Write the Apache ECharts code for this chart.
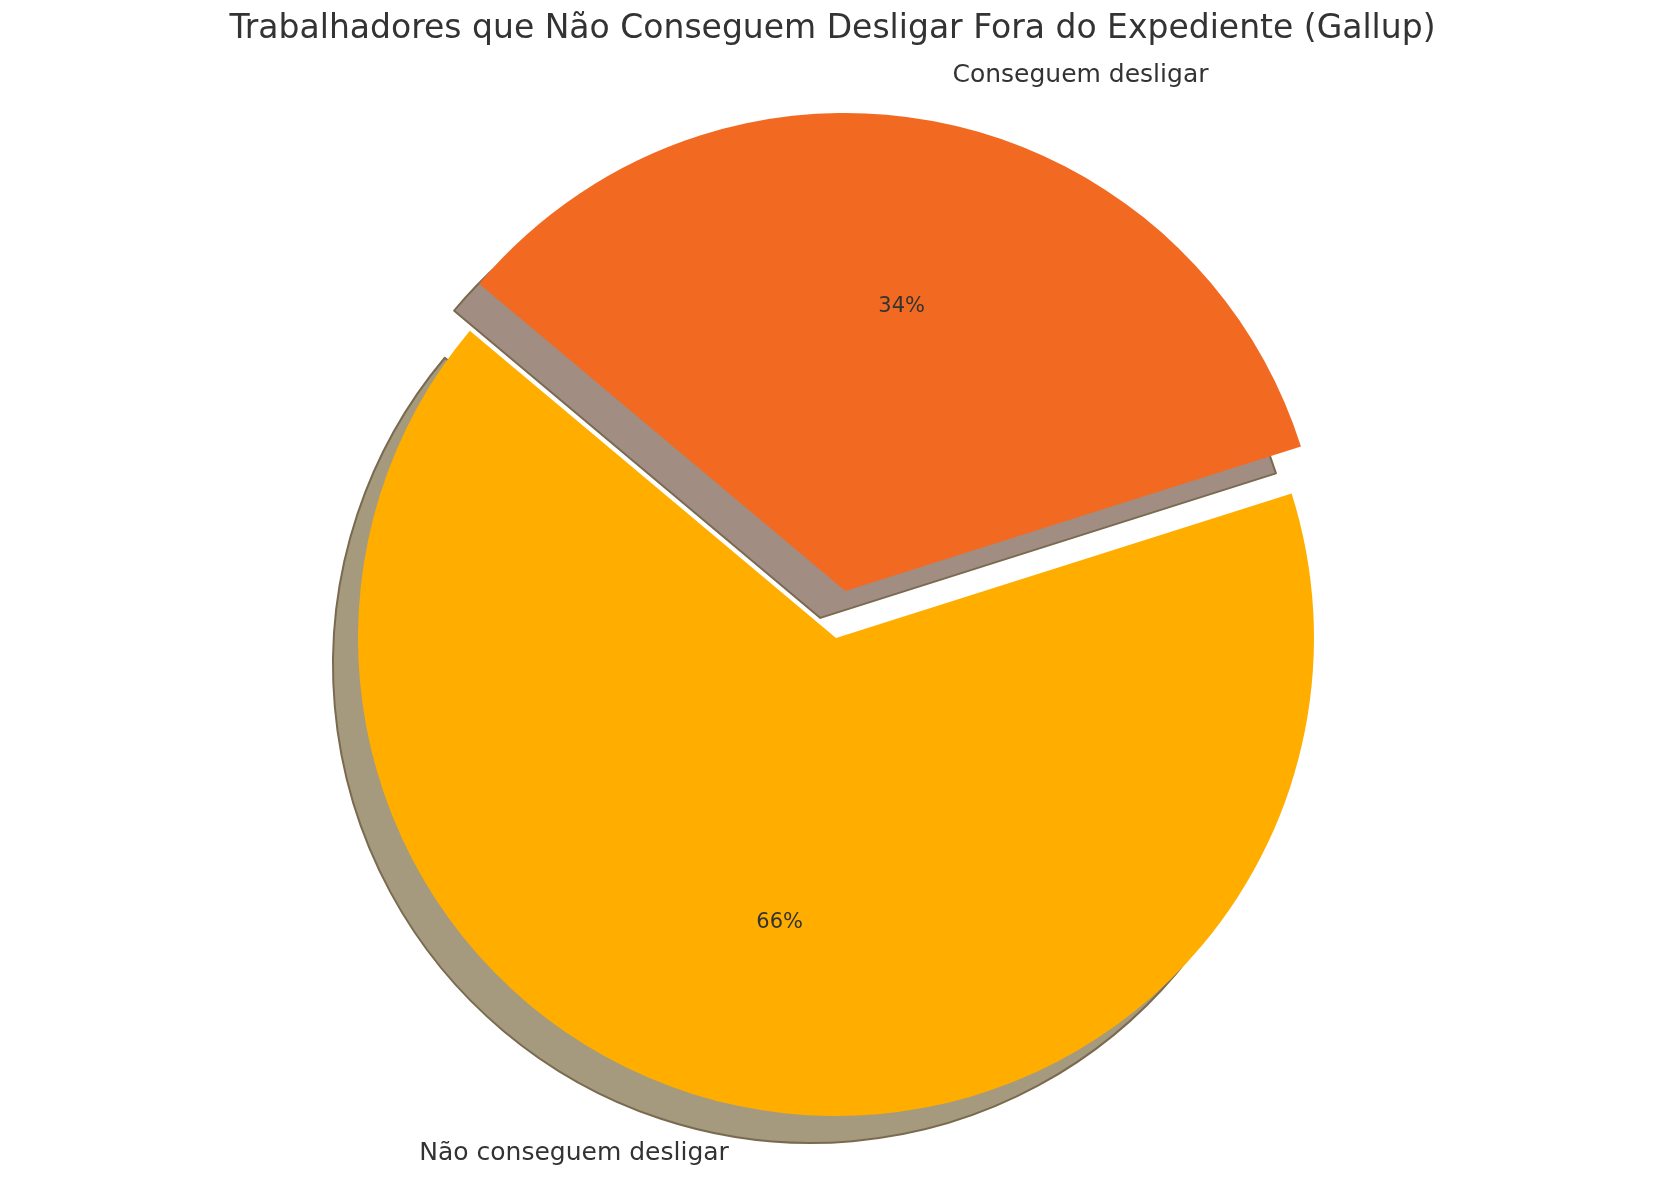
<!DOCTYPE html>
<html><head><meta charset="utf-8">
<script src="https://cdn.jsdelivr.net/npm/echarts@6/dist/echarts.min.js"></script>
<style>html,body{margin:0;background:#fff}#c{width:1665px;height:1186px}</style>
</head><body><div id="c"></div>
<script>
const categories = ['Não conseguem desligar', 'Conseguem desligar'];
const values = [66, 34];
const colors = ['#ffae00', '#f26a21'];
const shadowColors = ['#a59a7e', '#a28d82'];
const exploded = [false, true];

const cx = 836, cy = 638, R = 478, off = 48;
const chart = echarts.init(document.getElementById('c'));
const mk = (fn) => categories.map((n, i) => Object.assign({name: n, value: values[i], selected: exploded[i]}, fn(i)));
const base = {type: 'pie', startAngle: 140, clockwise: false, selectedMode: 'multiple', selectedOffset: off, animation: false, silent: true, emphasis: {disabled: true}};
chart.setOption({
  title: {text: 'Trabalhadores que Não Conseguem Desligar Fora do Expediente (Gallup)', left: 'center', top: 8,
    textStyle: {fontFamily: 'DejaVu Sans', fontWeight: 'normal', fontSize: 33, color: '#333'}},
  series: [
    Object.assign({}, base, {center: [cx - 25, cy + 27], radius: R, z: 1, label: {show: false}, labelLine: {show: false},
      data: mk(i => ({itemStyle: {color: shadowColors[i], borderColor: '#7a6a50', borderWidth: 2}}))}),
    Object.assign({}, base, {center: [cx, cy], radius: R, z: 2,
      label: {show: true, position: 'outside', formatter: '{b}', fontFamily: 'DejaVu Sans', fontSize: 25, color: '#333'},
      labelLine: {show: false, length: 0.1 * R, length2: 0},
      data: mk(i => ({itemStyle: {color: colors[i]}}))}),
    Object.assign({}, base, {center: [cx, cy], radius: [0.2 * R, R], z: 3,
      label: {show: true, position: 'inside', formatter: p => Math.round(p.percent) + '%', fontFamily: 'DejaVu Sans', fontSize: 21, color: '#333'},
      labelLine: {show: false},
      data: mk(i => ({itemStyle: {color: 'transparent'}}))})
  ]
});
</script></body></html>
